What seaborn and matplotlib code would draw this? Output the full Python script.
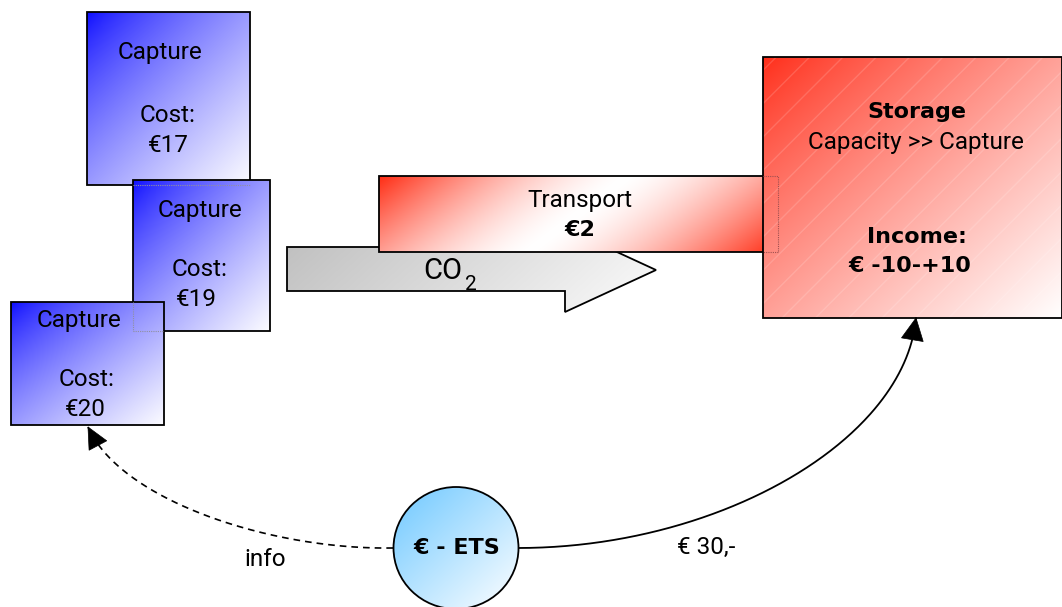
import numpy as np
import matplotlib
matplotlib.use('Agg')
import matplotlib.pyplot as plt
import seaborn as sns
from matplotlib.patches import Rectangle, Polygon, Ellipse

sns.set_theme(style='white')
plt.rcParams['font.family'] = ['Roboto', 'DejaVu Sans']
plt.rcParams['text.color'] = 'black'

# ---- data ----
capture_title = 'Capture'
capture_costs = [17, 19, 20]
transport_title = 'Transport'
transport_cost = 2
storage_title = 'Storage'
storage_note = 'Capacity >> Capture'
storage_income = ['-10', '+10']
ets_label = '€ - ETS'
ets_price = '30,-'
info_label = 'info'
flow_gas = ['CO', '2']

W, H = 1062, 607
fig = plt.figure(figsize=(W / 100, H / 100), dpi=100)
ax = fig.add_axes([0, 0, 1, 1])
ax.set_xlim(0, W)
ax.set_ylim(H, 0)
ax.axis('off')

FS = 17.5        # regular text (Roboto)
FB = 16          # bold text (DejaVu Sans Bold)
BOLD = ['DejaVu Sans']


def rgb(c):
    return np.array(c, dtype=float) / 255.0


def diag(c0, c1, a=0.5, b=0.5, p=1.0):
    c0, c1 = rgb(c0), rgb(c1)

    def f(u, v):
        t = np.clip(a * u + b * v, 0, 1) ** p
        return c0 * (1 - t[..., None]) + c1 * t[..., None]
    return f


def twin(c_end, c_mid, a=0.8, b=0.2, p=1.5):
    c_end, c_mid = rgb(c_end), rgb(c_mid)

    def f(u, v):
        t = a * u + b * v
        s = np.clip(np.abs(2 * t - 1), 0, 1) ** p
        return c_mid * (1 - s[..., None]) + c_end * s[..., None]
    return f


def filled(patch, bbox, func, z, lw=1.3, ec='black'):
    x0, y0, x1, y1 = bbox
    u = np.linspace(0, 1, 240)[None, :] * np.ones((240, 1))
    v = np.linspace(0, 1, 240)[:, None] * np.ones((1, 240))
    img = func(u, v)
    patch.set_facecolor('none')
    patch.set_edgecolor(ec)
    patch.set_linewidth(lw)
    patch.set_zorder(z + 0.2)
    ax.add_patch(patch)
    im = ax.imshow(img, extent=(x0, x1, y1, y0), origin='upper', aspect='auto',
                   zorder=z, interpolation='bilinear')
    im.set_clip_path(patch)
    return patch


def box(x0, y0, x1, y1, func, z):
    r = Rectangle((x0, y0), x1 - x0, y1 - y0)
    return filled(r, (x0, y0, x1, y1), func, z)


def txt(x, y, s, bold=False, **kw):
    if bold:
        ax.text(x, y, s, ha='center', va='center', fontsize=FB, fontweight='bold',
                family=BOLD, zorder=20, **kw)
    else:
        ax.text(x, y, s, ha='center', va='center', fontsize=FS, zorder=20, **kw)


blue = diag((10, 10, 255), (252, 252, 255), p=0.75)

# ---- capture boxes ----
cap_boxes = [(87, 12, 250, 185), (133, 180, 270, 331), (11, 302, 164, 425)]
cap_text = [((160, 52), (168, 115), (168, 145)),
            ((200, 210), (200, 270), (196, 300)),
            ((79, 320), (87, 380), (85, 410))]
for i, (bx, tp, cost) in enumerate(zip(cap_boxes, cap_text, capture_costs)):
    z = 1 + i
    box(*bx, blue, z)
    txt(*tp[0], capture_title)
    txt(*tp[1], 'Cost:')
    txt(*tp[2], f'€{cost}')

# faint outlines of hidden edges
ax.plot([133, 250], [185, 185], ls=(0, (1, 1)), color='#9090a0', lw=0.8, zorder=2.5)
ax.plot([133, 133, 164], [302, 331, 331], ls=(0, (1, 1)), color='#9090a0', lw=0.8, zorder=3.5)

# ---- CO2 arrow ----
co2 = Polygon([(287, 247), (565, 247), (565, 228), (656, 270), (565, 312),
               (565, 291), (287, 291)], closed=True)
filled(co2, (287, 228, 656, 312), diag((190, 190, 190), (252, 252, 252), a=0.8, b=0.2), 5)
ax.text(462, 271, flow_gas[0], ha='right', va='center', fontsize=21, zorder=20)
ax.text(465, 284, flow_gas[1], ha='left', va='center', fontsize=15, zorder=20)

# ---- transport ----
box(379, 176, 778, 252, twin((255, 45, 20), (255, 255, 255)), 7)
txt(580, 200, transport_title)
txt(580, 230, f'€{transport_cost}', bold=True)

# ---- storage ----
st = box(763, 57, 1062, 318, diag((255, 45, 25), (255, 255, 255), p=0.85), 9)
hatch = Rectangle((763, 57), 299, 261, facecolor='none', edgecolor=(1, 1, 1, 0.15),
                  hatch='/', lw=0, zorder=9.1)
ax.add_patch(hatch)
ax.plot([763, 778, 778, 763], [176, 176, 252, 252], ls=(0, (1, 1)), color='#a05050',
        lw=0.8, zorder=9.5)
txt(917, 112, storage_title, bold=True)
txt(916, 142, storage_note)
txt(917, 237, 'Income:', bold=True)
txt(910, 266, f'€ {storage_income[0]}-{storage_income[1]}', bold=True)

# ---- ETS circle ----
ell = Ellipse((456, 548), 125, 122)
filled(ell, (393, 487, 519, 609), diag((110, 200, 255), (255, 255, 255)), 11)
txt(457, 548, ets_label, bold=True)


# ---- flows ----
def bez(p0, c1, c2, p3, n=200):
    t = np.linspace(0, 1, n)[:, None]
    p0, c1, c2, p3 = map(np.array, (p0, c1, c2, p3))
    return (1 - t) ** 3 * p0 + 3 * (1 - t) ** 2 * t * c1 + 3 * (1 - t) * t ** 2 * c2 + t ** 3 * p3


def head(tip, frm, length=21, half=10, z=15):
    tip = np.array(tip, float)
    d = tip - np.array(frm, float)
    d /= np.linalg.norm(d)
    n = np.array([-d[1], d[0]])
    base = tip - d * length
    ax.add_patch(Polygon([tip, base + n * half, base - n * half], closed=True,
                         facecolor='black', edgecolor='black', lw=0.5, zorder=z))


solid = bez((518, 548), (720, 548), (905, 440), (916, 318))
ax.plot(solid[:, 0], solid[:, 1], color='black', lw=1.3, zorder=10)
head(solid[-1], solid[-12], length=22, half=11)

dashed = bez((393, 548), (270, 550), (120, 500), (88, 427))
ax.plot(dashed[:, 0], dashed[:, 1], color='black', lw=1.2, ls=(0, (4, 3)), zorder=10)
head(dashed[-1], dashed[-12])

txt(265, 560, info_label)
txt(706, 547, f'€ {ets_price}')

fig.savefig('out.png', dpi=100)
